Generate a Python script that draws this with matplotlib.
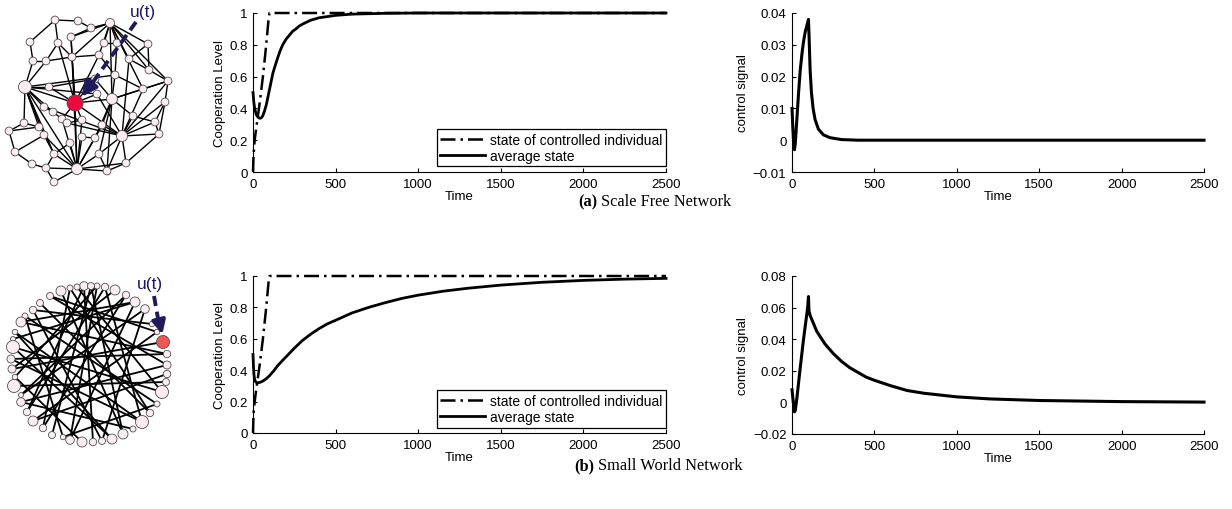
import matplotlib
matplotlib.use('Agg')
import matplotlib.pyplot as plt
import numpy as np

plt.rcParams['font.family'] = ['Liberation Sans', 'DejaVu Sans']

# ---- time series ----
# (a) scale free network
t_ctrl_a = [0, 3, 10, 20, 40, 60, 80, 95, 100, 2500]
x_ctrl_a = [0, 0.1, 0.2, 0.28, 0.43, 0.6, 0.8, 0.97, 1, 1]
t_avg_a = [0, 5, 10, 20, 30, 40, 50, 60, 70, 80, 90, 100, 110, 120, 130, 150, 165,
           180, 200, 220, 240, 260, 280, 300, 350, 400, 500, 600, 800, 1000, 2500]
x_avg_a = [0.5, 0.44, 0.40, 0.36, 0.345, 0.338, 0.34, 0.355, 0.385, 0.42, 0.47,
           0.52, 0.57, 0.62, 0.655, 0.72, 0.765, 0.8, 0.835, 0.86, 0.885, 0.9,
           0.918, 0.93, 0.955, 0.97, 0.985, 0.993, 0.998, 1, 1]
t_u_a = [0, 5, 10, 15, 20, 30, 40, 50, 60, 70, 80, 90, 95, 100, 104, 110, 118,
         128, 140, 160, 190, 230, 300, 400, 2500]
u_a = [0.01, 0.004, -0.001, -0.003, -0.001, 0.007, 0.015, 0.022, 0.027, 0.031,
       0.034, 0.036, 0.037, 0.038, 0.032, 0.022, 0.015, 0.01, 0.0065, 0.0035,
       0.0017, 0.0008, 0.0002, 0, 0]

# (b) small world network
t_ctrl_b = [0, 3, 10, 20, 40, 60, 80, 95, 100, 2500]
x_ctrl_b = [0, 0.12, 0.2, 0.28, 0.43, 0.6, 0.8, 0.97, 1, 1]
t_avg_b = [0, 3, 6, 10, 15, 20, 30, 40, 55, 70, 85, 100, 125, 150, 175, 200, 250,
           300, 350, 400, 450, 500, 600, 700, 800, 900, 1000, 1150, 1300, 1500,
           1750, 2000, 2250, 2500]
x_avg_b = [0.5, 0.42, 0.37, 0.34, 0.328, 0.322, 0.32, 0.322, 0.328, 0.338, 0.35,
           0.365, 0.395, 0.43, 0.458, 0.485, 0.54, 0.59, 0.63, 0.665, 0.695,
           0.718, 0.765, 0.8, 0.83, 0.857, 0.878, 0.903, 0.922, 0.942, 0.96,
           0.972, 0.98, 0.985]
t_u_b = [0, 8, 15, 20, 30, 50, 70, 90, 95, 100, 103, 110, 130, 150, 175, 200,
         250, 300, 350, 400, 450, 500, 600, 700, 800, 1000, 1200, 1500, 2000, 2500]
u_b = [0.008, 0.0, -0.006, -0.005, 0.003, 0.022, 0.04, 0.056, 0.06, 0.067,
       0.058, 0.055, 0.05, 0.045, 0.041, 0.037, 0.031, 0.026, 0.022, 0.019,
       0.016, 0.014, 0.0105, 0.0075, 0.0058, 0.0035, 0.0022, 0.0012, 0.0005,
       0.0002]

# ---- network drawings (pixel positions) ----
sf_nodes = [(55, 21), (78, 22), (91, 29), (110, 24), (30, 43), (58, 44), (71, 38),
            (104, 44), (117, 44), (148, 45), (33, 62), (46, 62), (72, 58), (99, 56),
            (129, 60), (149, 71), (168, 82), (115, 76), (25, 88), (49, 88), (95, 80),
            (143, 90), (75, 104), (97, 95), (112, 100), (165, 103), (44, 108),
            (53, 113), (133, 117), (24, 124), (39, 128), (62, 120), (67, 124),
            (82, 121), (102, 126), (155, 123), (9, 132), (44, 136), (122, 137),
            (159, 135), (82, 138), (95, 139), (70, 144), (15, 153), (54, 155),
            (99, 155), (32, 165), (46, 169), (77, 170), (107, 172), (126, 164),
            (54, 183)]
sf_big = {3: 4.5, 18: 6.5, 24: 5.5, 38: 5.5, 48: 5.5, 22: 8}
sf_red = 22
sf_edges = [(0, 1), (1, 2), (2, 3), (3, 9), (9, 15), (15, 16), (16, 25), (25, 39),
            (39, 50), (50, 49), (49, 48), (48, 51), (51, 47), (47, 46), (46, 43),
            (43, 36), (36, 29), (29, 18), (4, 0), (4, 10),
            (3, 6), (3, 7), (3, 8), (3, 13), (3, 14), (3, 15), (3, 16), (3, 21),
            (3, 12), (3, 24),
            (18, 10), (18, 11), (18, 19), (18, 22), (18, 26), (18, 27), (18, 30),
            (18, 37), (18, 44), (18, 48), (18, 23), (18, 17),
            (22, 12), (22, 6), (22, 5), (22, 23), (22, 24), (22, 33), (22, 31),
            (22, 48), (22, 38), (22, 19), (22, 20), (22, 13),
            (24, 17), (24, 28), (24, 21), (24, 16), (24, 34), (24, 49), (24, 45),
            (24, 41), (24, 20),
            (38, 16), (38, 25), (38, 35), (38, 39), (38, 28), (38, 21), (38, 34),
            (38, 45), (38, 49), (38, 26), (38, 23), (38, 14), (38, 50), (38, 32),
            (48, 40), (48, 42), (48, 45), (48, 41), (48, 44), (48, 47), (48, 37),
            (48, 50), (48, 12), (48, 33), (48, 34), (48, 31),
            (5, 11), (5, 0), (5, 12), (6, 2), (6, 12), (10, 11), (11, 12),
            (12, 13), (13, 17), (14, 9), (14, 15), (17, 21), (21, 16), (25, 35),
            (35, 39), (26, 27), (27, 31), (29, 30), (30, 36), (37, 43), (37, 44),
            (44, 47), (42, 44), (40, 41), (45, 49), (34, 41), (32, 33), (31, 32),
            (28, 35), (7, 8), (8, 17), (19, 20)]

sw_nodes = [(84, 287), (77, 288), (70, 289), (61, 292), (50, 297), (40, 304),
            (33, 311), (25, 317), (21, 323), (15, 333), (13, 340), (13, 348),
            (11, 360), (12, 370), (15, 378), (14, 387), (21, 396), (21, 403),
            (27, 413), (33, 422), (43, 429), (52, 436), (63, 438), (70, 441),
            (82, 443), (93, 443), (102, 442), (112, 440), (123, 435), (133, 430),
            (142, 423), (150, 414), (157, 405), (162, 393), (166, 383), (167, 375),
            (167, 366), (167, 355), (163, 343), (157, 333), (152, 325), (145, 310),
            (135, 303), (126, 296), (115, 291), (105, 288), (97, 287), (91, 287)]
sw_rad = [4.3, 3, 3, 5, 3.5, 3.5, 3.7, 3, 5, 2.7, 2.5, 6.5, 4, 4, 2.7, 6.5, 2.5,
          4.3, 3.7, 5, 3.7, 3.5, 2.7, 4.3, 5, 3.7, 3.5, 5, 5, 3, 6.5, 3.7, 3,
          6.5, 3.5, 3.7, 4, 3.7, 6.5, 2.7, 2.7, 4.3, 5, 3.7, 5, 3.7, 3, 3.5]
sw_red = 38
sw_edges = [(0, 25), (1, 33), (2, 20), (3, 28), (4, 36), (5, 31), (6, 40), (7, 22),
            (8, 42), (9, 30), (11, 27), (12, 37), (13, 44), (14, 24),
            (15, 34), (16, 41), (17, 29), (18, 45), (19, 39), (20, 43), (21, 47),
            (22, 32), (23, 46), (26, 6), (27, 9), (28, 47),
            (30, 12), (31, 2), (32, 7), (33, 11), (35, 19), (36, 17),
            (37, 8), (38, 13), (39, 4), (41, 26), (42, 23), (43, 16),
            (45, 30), (46, 14), (0, 18), (10, 42)]

W, H = 1232, 510
fig = plt.figure(figsize=(W / 100, H / 100), dpi=100)
navy = '#1f1a5a'
node_face = '#fbedf1'


def px_axes(x0, y0, w, h):
    return fig.add_axes([x0 / W, 1 - (y0 + h) / H, w / W, h / H])


def draw_net(x0, y0, nodes, edges, radii, red, red_color, lw):
    ax = px_axes(x0, y0, 200, 200)
    ax.set_xlim(x0, x0 + 200)
    ax.set_ylim(y0 + 200, y0)
    ax.axis('off')
    for a, b in edges:
        ax.plot([nodes[a][0], nodes[b][0]], [nodes[a][1], nodes[b][1]],
                color='black', lw=lw, zorder=1, solid_capstyle='round')
    xs = [p[0] for p in nodes]
    ys = [p[1] for p in nodes]
    sizes = [(2 * r * 0.72) ** 2 for r in radii]
    cols = [red_color if i == red else node_face for i in range(len(nodes))]
    ax.scatter(xs, ys, s=sizes, c=cols, edgecolors='#505050', linewidths=0.6,
               zorder=2)
    return ax


sf_rad = [sf_big.get(i, 3.9) for i in range(len(sf_nodes))]
ax1 = draw_net(0, 0, sf_nodes, sf_edges, sf_rad, sf_red, '#f0083c', 1.0)
ax1.plot([136, 93], [23, 83], color=navy, lw=2.8, ls=(0, (2.6, 1.5)), zorder=3)
ax1.annotate('', xy=(80, 100), xytext=(94, 81),
             arrowprops=dict(arrowstyle='-|>,head_length=0.9,head_width=0.45',
                             color=navy, lw=2.8), zorder=4)
ax1.text(143, 12, 'u(t)', color=navy, fontsize=12.5, ha='center', va='center')

ax2 = draw_net(0, 260, sw_nodes, sw_edges, sw_rad, sw_red, '#f25552', 1.3)
ax2.plot([154, 159], [297, 325], color=navy, lw=2.8, ls=(0, (2.6, 1.5)), zorder=3)
ax2.annotate('', xy=(163, 338), xytext=(159, 322),
             arrowprops=dict(arrowstyle='-|>,head_length=0.8,head_width=0.4',
                             color=navy, lw=2.8), zorder=4)
ax2.text(150, 285, 'u(t)', color=navy, fontsize=12.5, ha='center', va='center')


def style(ax):
    for s in ['top', 'right']:
        ax.spines[s].set_visible(False)
    for s in ['left', 'bottom']:
        ax.spines[s].set_linewidth(0.8)
    ax.tick_params(direction='in', length=3, width=0.8, labelsize=9.5, pad=4)
    ax.set_xlim(0, 2500)
    ax.set_xticks([0, 500, 1000, 1500, 2000, 2500])
    ax.set_xlabel('Time', fontsize=9.5, labelpad=0.5)


coop_ticks = [0, 0.2, 0.4, 0.6, 0.8, 1]
coop_labels = ['0', '0.2', '0.4', '0.6', '0.8', '1']


def coop_plot(pos, tc, xc, ta, xa):
    ax = px_axes(*pos)
    ax.plot(tc, xc, color='black', lw=1.8, ls=(0, (6, 2, 1, 2)), clip_on=False,
            label='state of controlled individual')
    ax.plot(ta, xa, color='black', lw=2.0, clip_on=False, label='average state')
    style(ax)
    ax.set_ylim(0, 1)
    ax.set_yticks(coop_ticks)
    ax.set_yticklabels(coop_labels)
    ax.set_ylabel('Cooperation Level', fontsize=9.5, labelpad=2)
    leg = ax.legend(loc='lower right', bbox_to_anchor=(1.0, 0.035),
                    borderaxespad=0, fancybox=False, framealpha=1,
                    edgecolor='black', fontsize=10, handlelength=3.2,
                    borderpad=0.25, labelspacing=0.15, handletextpad=0.4)
    leg.get_frame().set_linewidth(0.9)
    return ax


def ctrl_plot(pos, t, u, lo, hi, ticks, labels):
    ax = px_axes(*pos)
    ax.plot(t, u, color='black', lw=2.2, clip_on=False)
    style(ax)
    ax.set_ylim(lo, hi)
    ax.set_yticks(ticks)
    ax.set_yticklabels(labels)
    ax.set_ylabel('control signal', fontsize=9.5, labelpad=3)
    return ax


coop_plot((253, 14, 413, 159), t_ctrl_a, x_ctrl_a, t_avg_a, x_avg_a)
ctrl_plot((792, 14, 412, 159), t_u_a, u_a, -0.01, 0.04,
          [-0.01, 0, 0.01, 0.02, 0.03, 0.04],
          ['\u22120.01', '0', '0.01', '0.02', '0.03', '0.04'])
coop_plot((253, 277, 413, 157), t_ctrl_b, x_ctrl_b, t_avg_b, x_avg_b)
ctrl_plot((792, 277, 412, 158), t_u_b, u_b, -0.02, 0.08,
          [-0.02, 0, 0.02, 0.04, 0.06, 0.08],
          ['\u22120.02', '0', '0.02', '0.04', '0.06', '0.08'])

# captions
serif = ['Liberation Serif', 'DejaVu Serif']
fig.text(597 / W, 1 - 202 / H, '(a)', family=serif, fontweight='bold',
         fontsize=11.8, ha='right', va='center')
fig.text(601 / W, 1 - 202 / H, 'Scale Free Network', family=serif,
         fontsize=11.8, ha='left', va='center')
fig.text(594 / W, 1 - 466 / H, '(b)', family=serif, fontweight='bold',
         fontsize=11.8, ha='right', va='center')
fig.text(598 / W, 1 - 466 / H, 'Small World Network', family=serif,
         fontsize=11.8, ha='left', va='center')

plt.savefig('out.png', dpi=100)
